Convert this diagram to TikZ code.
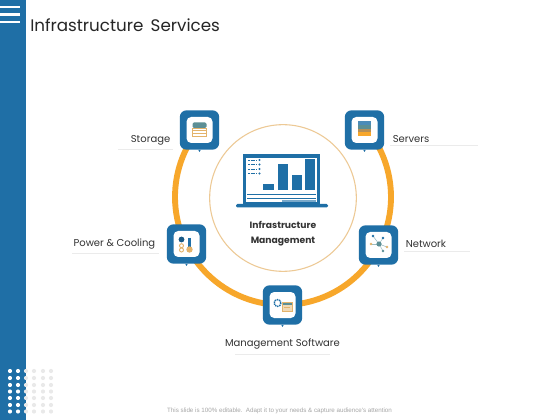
\documentclass[tikz,border=0pt]{standalone}
\usepackage{fontspec}
\setmainfont{Poppins}
\newfontfamily\footfont{Liberation Sans}
\usepackage{xcolor}
\usetikzlibrary{arrows.meta, calc}
\definecolor{barblue}{HTML}{1F6FA6}
\definecolor{ringorange}{HTML}{F7A72B}
\definecolor{hubtan}{HTML}{EDC995}
\definecolor{icontan}{HTML}{E3B36B}
\definecolor{iconteal}{HTML}{5C8F95}
\definecolor{dotgray}{HTML}{E9E9E9}
\definecolor{inktext}{HTML}{333333}
\tikzset{
  iconbox/.style={draw=none, fill=barblue, rounded corners=5pt, minimum size=29.5pt, inner sep=0pt},
  iconface/.style={draw=none, fill=white, rounded corners=3.5pt, minimum size=19.5pt, inner sep=0pt},
  hub/.style={draw=hubtan, fill=white, circle, line width=0.8pt, minimum size=110pt, inner sep=0pt},
  ringline/.style={draw=ringorange, line width=4.4pt},
  tag/.style={text=inktext, font=\fontsize{7.5}{9}\selectfont, inner sep=0pt},
  tagline/.style={draw=black!8, line width=0.4pt},
  hubtext/.style={text=inktext, font=\fontsize{6.9}{11.6}\selectfont\bfseries, align=center, inner sep=0pt}
}
\newcommand{\tagbox}[3]{%
  \node[iconbox] (#3) at (#1,#2) {};
  \node[iconface] (#3face) at (#1,#2) {};
  \fill[barblue] ($(#3.south)+(-1.2,0)$) -- ($(#3.south)+(1.2,0)$) -- ($(#3.south)+(0,2)$) -- cycle;
}
\begin{document}
\begin{tikzpicture}[x=0.75pt,y=0.75pt,yscale=-1]
        \useasboundingbox (0,0) rectangle (560,420);
        \fill[white] (0,0) rectangle (560,420);

        % Side bar
        \fill[barblue] (0,0) rectangle (25.5,420);
        \foreach \yy in {7,14.5,22}
          \fill[white] (0,\yy-1.2) rectangle (20,\yy+1.2);
        \foreach \yy in {371,378,385,391.5,398,405,411.5} {
          \foreach \xx in {26,34,43,51}
            \fill[dotgray] (\xx,\yy) circle (2.1);
          \foreach \xx in {10,18}
            \fill[white] (\xx,\yy) circle (2.1);
        }

        % Title
        \node[anchor=west, text=black!85, font=\fontsize{12.55}{16}\selectfont, inner sep=0pt] (title) at (30,25.5) {Infrastructure\, Services};

        % Ring and hub
        \coordinate (ringc) at (283,197);
        \draw[ringline] ($(ringc)+(219:108)$) arc[start angle=219, end angle=-40, radius=81pt];
        \node[hub] (hub) at (283,198) {};
        \node[hubtext] (hubtext) at (283,233.5) {Infrastructure\\Management};

        % Laptop
        \fill[barblue] (243,154) rectangle (320,205);
        \fill[white] (246,158) rectangle (317,202);
        \fill[barblue, rounded corners=1pt] (236,204) rectangle (328,207.5);
        \fill[barblue] (263,184.5) rectangle (274,190);
        \fill[barblue] (278,164) rectangle (288,190);
        \fill[barblue] (292,175.5) rectangle (302,190);
        \fill[barblue] (305,159) rectangle (315,190);
        \foreach \yy in {160,164.5,169,173.5} {
          \draw[barblue, line width=0.6pt, dashed, dash pattern=on 1.5pt off 0.5pt] (248,\yy) -- (257,\yy);
          \fill[barblue] (259.5,\yy) circle (1.2);
        }
        \draw[barblue, line width=0.7pt] (247,194.5) -- (316,194.5);
        \draw[barblue, line width=0.7pt] (247,198) -- (316,198);
        \draw[barblue!60, line width=1pt] (282,201) -- (316,201);

        % Icon boxes
        \tagbox{199.5}{130}{storage}
        \tagbox{364.5}{130}{servers}
        \tagbox{186.5}{244}{power}
        \tagbox{378.5}{245}{network}
        \tagbox{282.5}{305}{software}

        % Storage icon
        \fill[iconteal, rounded corners=1pt] (192.5,122.5) rectangle (206.5,128);
        \draw[icontan, line width=0.5pt] (192.5,128) rectangle (206.5,136);
        \draw[icontan, line width=0.5pt] (192.5,130.7) -- (206.5,130.7) (192.5,133.4) -- (206.5,133.4);

        % Servers icon
        \fill[barblue!80] (358,121.5) rectangle (370.5,125.5);
        \fill[iconteal] (358,125.5) rectangle (370.5,129);
        \fill[icontan!80!black] (358,129) rectangle (370.5,132.5);
        \fill[ringorange] (358,132.5) rectangle (370.5,136.5);

        % Power icon
        \fill[barblue!80!black] (181.5,239.5) circle (2.9);
        \draw[icontan, line width=0.7pt] (181.5,245.7) circle (2);
        \draw[icontan, line width=0.7pt] (181.5,250) circle (2);
        \draw[barblue, line width=2pt] (189.5,238) -- (189.5,247);
        \fill[icontan] (189.5,249.5) circle (3.2);

        % Network icon
        \coordinate (netc) at (379,244);
        \foreach \dx/\dy/\col in {-6/-8/barblue,4/-6/barblue,8/3/icontan,4/7/iconteal,-8/0/icontan} {
          \draw[iconteal!60, line width=0.4pt] (netc) -- ++(\dx,\dy);
          \fill[\col] ($(netc)+(\dx,\dy)$) circle (1.4);
        }
        \fill[iconteal] (netc) circle (2.6);

        % Software icon
        \draw[barblue, line width=1.1pt, dashed, dash pattern=on 1pt off 0.6pt] (277.5,303) circle (3.4);
        \fill[icontan!50] (282,302) rectangle (292,311);
        \fill[iconteal] (282,302) rectangle (292,304.5);
        \draw[icontan, line width=0.5pt] (282,302) rectangle (292,311);
        \draw[icontan, line width=0.5pt] (284,307) -- (290,307);

        % Labels
        \node[tag, anchor=east] (storagetag) at (170.5,140.5) {Storage};
        \node[tag, anchor=west] (serverstag) at (392.5,139) {Servers};
        \node[tag, anchor=east] (powertag) at (155.5,244.5) {Power \& Cooling};
        \node[tag, anchor=west] (networktag) at (405.5,244) {Network};
        \node[tag] (softwaretag) at (282.5,344.5) {Management Software};

        % Label rules
        \draw[tagline] (118,149.5) -- (173,149.5);
        \draw[tagline] (390,145.5) -- (478,145.5);
        \draw[tagline] (72,253.5) -- (159,253.5);
        \draw[tagline] (404,251.5) -- (470,251.5);
        \draw[tagline] (235,354.5) -- (330,354.5);

        % Footer
        \node[text=black!35, font=\footfont\fontsize{4.67}{6}\selectfont, inner sep=0pt] (footer) at (279.5,411) {This slide is 100\% editable.\, Adapt it to your needs \& capture audience's attention};
\end{tikzpicture}
\end{document}
